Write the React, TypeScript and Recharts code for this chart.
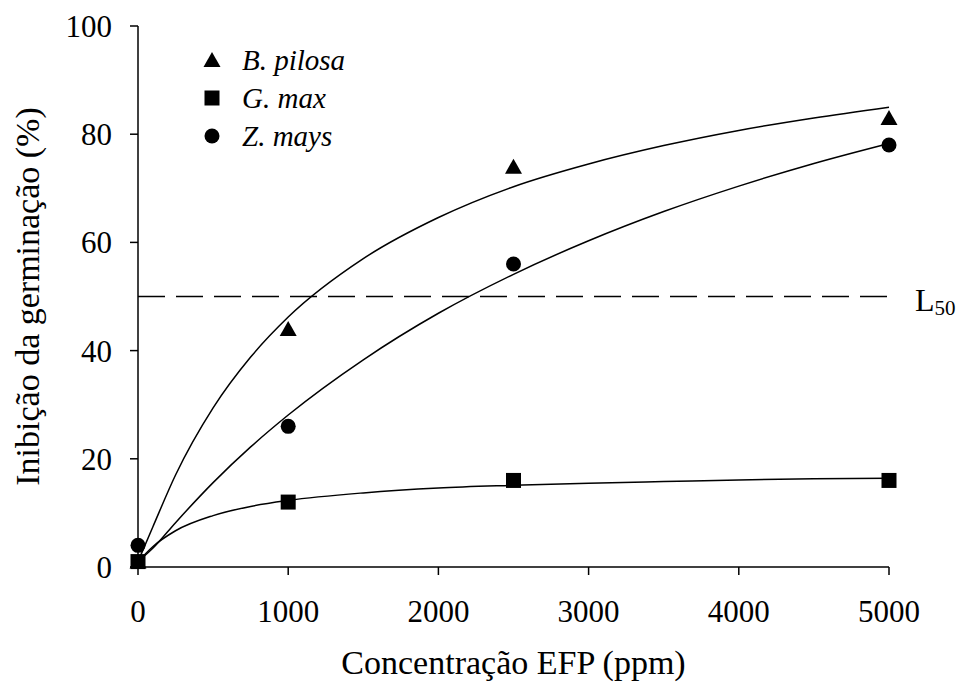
import React from 'react';
import {
  ComposedChart,
  Line,
  Scatter,
  XAxis,
  YAxis,
  ReferenceLine,
} from 'recharts';

const FONT = "'Liberation Serif', 'Times New Roman', serif";

// Observed germination inhibition (%) at each extract concentration (ppm)
const concentrations = [0, 1000, 2500, 5000];
const pilosaObserved = [1, 44, 74, 83];
const maxObserved = [1, 12, 16, 16];
const maysObserved = [4, 26, 56, 78];

// Fitted response curves, sampled along the concentration range
const fitConcentrations = [0, 100, 250, 500, 750, 1000, 1500, 2000, 2500, 3000, 3500, 4000, 4500, 5000];
const pilosaFit = [1, 7.5, 17, 29.4, 38.8, 46.2, 57, 64.6, 70.3, 74.5, 77.9, 80.7, 83, 85];
const maxFit = [1, 3.8, 6.7, 9.5, 11.2, 12.3, 13.7, 14.6, 15.1, 15.5, 15.8, 16.1, 16.3, 16.4];
const maysFit = [1, 3.5, 8.2, 15.6, 22.2, 28.1, 38.3, 46.9, 54.1, 60.3, 65.7, 70.4, 74.6, 78.3];

const xTicks = [0, 1000, 2000, 3000, 4000, 5000];
const yTicks = [0, 20, 40, 60, 80, 100];
const threshold = 50;

const species = ['B. pilosa', 'G. max', 'Z. mays'];

const curveRows = fitConcentrations.map((x, i) => ({
  x,
  pilosa: pilosaFit[i],
  max: maxFit[i],
  mays: maysFit[i],
}));

const toPoints = (values: number[]) => concentrations.map((x, i) => ({ x, y: values[i] }));

const Triangle = ({ cx, cy }: any) => (
  <polygon points={`${cx},${cy - 8} ${cx + 8.5},${cy + 7} ${cx - 8.5},${cy + 7}`} fill="#000" />
);
const Square = ({ cx, cy }: any) => <rect x={cx - 7.5} y={cy - 7.5} width={15} height={15} fill="#000" />;
const Dot = ({ cx, cy }: any) => <circle cx={cx} cy={cy} r={7.5} fill="#000" />;

const shapes = [Triangle, Square, Dot];

// Key drawn as an overlay so it doesn't take space from the plot
const SpeciesKey = () => (
  <div
    style={{
      position: 'absolute',
      left: 202,
      top: 41,
      fontFamily: FONT,
      fontStyle: 'italic',
      fontSize: 29,
      color: '#000',
    }}
  >
    {species.map((name, i) => {
      const Shape = shapes[i];
      return (
        <div key={name} style={{ display: 'flex', alignItems: 'center', height: 38 }}>
          <svg width={20} height={20} style={{ marginRight: 20 }}>
            <Shape cx={10} cy={10} />
          </svg>
          <span>{name}</span>
        </div>
      );
    })}
  </div>
);

const renderThresholdLabel = ({ viewBox }: any) => (
  <text
    x={viewBox.x + viewBox.width + 26}
    y={viewBox.y + 14}
    fontFamily={FONT}
    fontSize={32}
    fill="#000"
  >
    L
    <tspan fontSize={21} dy={4}>
      50
    </tspan>
  </text>
);

const renderYTitle = ({ viewBox }: any) => {
  const x = viewBox.x + 27;
  const y = viewBox.y + viewBox.height / 2;
  return (
    <text
      x={x}
      y={y}
      transform={`rotate(-90, ${x}, ${y})`}
      textAnchor="middle"
      dominantBaseline="central"
      fontFamily={FONT}
      fontSize={34}
      fill="#000"
    >
      Inibição da germinação (%)
    </text>
  );
};

const renderXTitle = ({ viewBox }: any) => (
  <text
    x={viewBox.x + viewBox.width / 2}
    y={viewBox.y + 107}
    textAnchor="middle"
    fontFamily={FONT}
    fontSize={34}
    fill="#000"
  >
    Concentração EFP (ppm)
  </text>
);

const axisStroke = { stroke: '#000', strokeWidth: 1.5 };
const tickStyle = { fontSize: 31, fill: '#000', fontFamily: FONT };

export default function App() {
  return (
    <div style={{ position: 'absolute', left: 0, top: 0, width: 957, height: 685, background: '#fff' }}>
      <ComposedChart
        width={957}
        height={685}
        data={curveRows}
        margin={{ top: 26, right: 68, bottom: 0, left: 0 }}
      >
        <XAxis
          dataKey="x"
          type="number"
          domain={[0, 5000]}
          ticks={xTicks}
          tickSize={8}
          tickMargin={25}
          height={118}
          axisLine={axisStroke}
          tickLine={axisStroke}
          tick={tickStyle}
          label={renderXTitle}
        />
        <YAxis
          type="number"
          domain={[0, 100]}
          ticks={yTicks}
          width={138}
          tickSize={8}
          tickMargin={18}
          axisLine={axisStroke}
          tickLine={axisStroke}
          tick={tickStyle}
          label={renderYTitle}
        />
        <ReferenceLine
          y={threshold}
          stroke="#000"
          strokeWidth={1.5}
          strokeDasharray="27 11"
          label={renderThresholdLabel}
        />
        <Line type="monotone" dataKey="pilosa" stroke="#000" strokeWidth={1.5} dot={false} isAnimationActive={false} />
        <Line type="monotone" dataKey="mays" stroke="#000" strokeWidth={1.5} dot={false} isAnimationActive={false} />
        <Line type="monotone" dataKey="max" stroke="#000" strokeWidth={1.5} dot={false} isAnimationActive={false} />
        <Scatter data={toPoints(pilosaObserved)} dataKey="y" shape={Triangle} isAnimationActive={false} />
        <Scatter data={toPoints(maysObserved)} dataKey="y" shape={Dot} isAnimationActive={false} />
        <Scatter data={toPoints(maxObserved)} dataKey="y" shape={Square} isAnimationActive={false} />
      </ComposedChart>
      <SpeciesKey />
    </div>
  );
}
